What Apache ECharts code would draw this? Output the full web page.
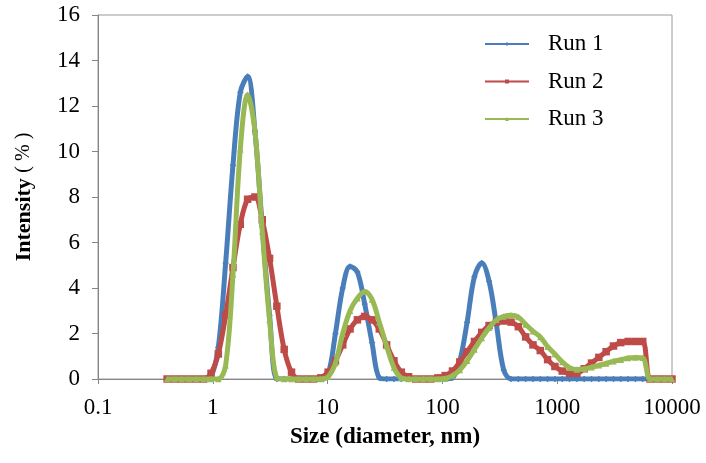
<!DOCTYPE html>
<html>
<head>
<meta charset="utf-8">
<script src="https://cdn.jsdelivr.net/npm/echarts@6/dist/echarts.min.js"></script>
<style>html,body{margin:0;padding:0;background:#fff;}#c{width:706px;height:463px;}</style>
</head>
<body>
<div id="c"></div>
<script>
const sizes = [0.4,0.4632,0.5365,0.6213,0.7195,0.8332,0.9649,1.117,1.294,1.499,1.736,2.01,2.328,2.696,3.122,3.615,4.187,4.849,5.615,6.503,7.531,8.721,10.1,11.7,13.54,15.69,18.17,21.04,24.36,28.21,32.67,37.84,43.82,50.75,58.77,68.06,78.82,91.28,105.7,122.4,141.8,164.2,190.1,220.2,255,295.3,342,396.1,458.7,531.2,615.1,712.4,825,955.4,1106,1281,1484,1718,1990,2305,2669,3091,3580,4145,4801,5560,6439,7456,8635,10000];
const run1 = [0,0,0,0,0,0,0.1,1.4,5.1,9.4,12.6,13.3,10.9,6.7,2.8,0,0,0,0,0,0,0,0.2,2.0,4.0,4.95,4.7,3.3,1.6,0.05,0,0,0,0,0,0,0,0,0,0.05,0.8,2.5,4.5,5.1,4.3,2.4,0.4,0,0,0,0,0,0,0,0,0,0,0,0,0,0,0,0,0,0,0,0,0,0,0];
const run2 = [0,0,0,0,0,0,0.25,1.1,2.8,4.9,6.8,7.9,8.0,7.0,5.3,3.2,1.3,0.3,0,0,0,0.05,0.3,0.8,1.5,2.2,2.6,2.75,2.6,2.2,1.5,0.8,0.3,0.1,0,0,0,0.05,0.15,0.35,0.75,1.2,1.65,2.05,2.35,2.5,2.55,2.5,2.3,1.85,1.5,1.25,0.85,0.55,0.35,0.25,0.25,0.45,0.7,0.95,1.2,1.45,1.6,1.65,1.65,1.65,0,0,0,0];
const run3 = [0,0,0,0,0,0,0,0,0.6,4.6,10.1,12.5,10.9,6.5,2.6,0.05,0,0,0,0,0,0,0.1,0.7,2.0,3.0,3.55,3.85,3.5,2.5,1.45,0.5,0.05,0,0,0,0,0,0.02,0.15,0.4,0.8,1.3,1.8,2.25,2.6,2.75,2.8,2.72,2.4,2.1,1.85,1.42,1.1,0.75,0.5,0.42,0.45,0.52,0.6,0.68,0.78,0.85,0.92,0.95,0.93,0,0,0,0];
const seriesNames = ['Run 1','Run 2','Run 3'];
const colors = ['#4A7EBB','#BE4B48','#98B954'];
const symbols = ['diamond','rect','triangle'];
const xTicks = [0.1,1,10,100,1000,10000];
const yTicks = [0,2,4,6,8,10,12,14,16];

const FONT = 'Liberation Serif';
const chart = echarts.init(document.getElementById('c'), null, {renderer:'canvas'});
const allRuns = [run1, run2, run3];
const series = allRuns.map((vals, i) => ({
  name: seriesNames[i],
  type: 'line',
  data: sizes.map((s, j) => [s, vals[j]]),
  smooth: 0.35,
  symbol: symbols[i],
  symbolSize: i === 1 ? 7.5 : 6.5,
  showSymbol: true,
  lineStyle: {width: 5, color: colors[i]},
  itemStyle: {color: colors[i]},
  emphasis: {disabled: true},
  animation: false,
  z: 2 + i
}));
chart.setOption({
  animation: false,
  grid: {left: 98, right: 34, top: 15, bottom: 84, show: true, borderColor: '#9a9a9a', borderWidth: 1},
  legend: {
    orient: 'vertical', left: 484, top: 32, padding: 0, itemWidth: 44, itemHeight: 5, itemGap: 13.5,
    data: seriesNames,
    textStyle: {fontFamily: FONT, fontSize: 23, color: '#000', padding: [0,0,0,14], lineHeight: 24}
  },
  xAxis: {
    type: 'log', logBase: 10, min: xTicks[0], max: xTicks[xTicks.length-1],
    name: 'Size (diameter, nm)', nameLocation: 'middle', nameGap: 47,
    nameTextStyle: {fontFamily: FONT, fontSize: 23, fontWeight: 'bold', color: '#000'},
    axisLine: {show: true, lineStyle: {color: '#868686', width: 1}},
    axisTick: {show: true, length: 5, lineStyle: {color: '#868686'}},
    splitLine: {show: false}, minorTick: {show: false},
    axisLabel: {fontFamily: FONT, fontSize: 23, color: '#000', margin: 17,
      formatter: v => { const r = xTicks.find(t => Math.abs(Math.log10(t) - Math.log10(v)) < 1e-6); return r !== undefined ? String(r) : ''; }}
  },
  yAxis: {
    type: 'value', min: yTicks[0], max: yTicks[yTicks.length-1], interval: 2,
    name: '{b|Intensity} {n|( % )}', nameLocation: 'middle', nameGap: 63, nameRotate: 90,
    nameTextStyle: {fontFamily: FONT, fontSize: 22, color: '#000',
      rich: {b: {fontFamily: FONT, fontSize: 22, fontWeight: 'bold', color: '#000'},
             n: {fontFamily: FONT, fontSize: 20, color: '#000'}}},
    axisLine: {show: true, lineStyle: {color: '#868686', width: 1}},
    axisTick: {show: true, length: 6, lineStyle: {color: '#868686'}},
    splitLine: {show: false},
    axisLabel: {fontFamily: FONT, fontSize: 23, color: '#000', margin: 18}
  },
  series: series
});
</script>
</body>
</html>
